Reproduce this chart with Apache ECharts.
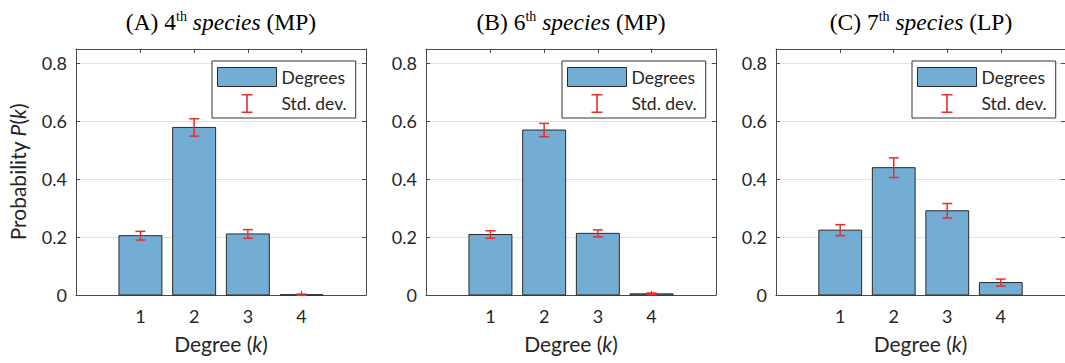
<!DOCTYPE html>
<html>
<head>
<meta charset="utf-8">
<script src="https://cdn.jsdelivr.net/npm/echarts@6/dist/echarts.min.js"></script>
<style>
html,body{margin:0;padding:0;background:#fff;}
#chart{width:1065px;height:363px;}
</style>
</head>
<body>
<div id="chart"></div>
<script>
// ---- data ----
const degrees = [1, 2, 3, 4];
const xTickLabels = [1, 2, 3, 4];
const yTickLabels = [0, 0.2, 0.4, 0.6, 0.8];
const panelTitles = [
  ['(A) 4', 'th', 'species', '(MP)'],
  ['(B) 6', 'th', 'species', '(MP)'],
  ['(C) 7', 'th', 'species', '(LP)']
];
const probA = [0.205, 0.579, 0.211, 0.001];
const stdA  = [0.015, 0.030, 0.015, 0.002];
const probB = [0.209, 0.570, 0.213, 0.004];
const stdB  = [0.013, 0.023, 0.012, 0.003];
const probC = [0.224, 0.440, 0.291, 0.043];
const stdC  = [0.019, 0.034, 0.025, 0.012];
const legendNames = ['Degrees', 'Std. dev.'];

// ---- style ----
const SANS = 'Lato';
const SERIF = 'Liberation Serif';
const BAR_COLOR = '#74add3';
const BAR_BORDER = '#2a2a2a';
const ERR_COLOR = '#e2302f';
const AXIS_COLOR = '#4a4a4a';
const TEXT_COLOR = '#262626';
const BAR_W = 0.8;

const panels = [
  {prob: probA, std: stdA, left: 76},
  {prob: probB, std: stdB, left: 426},
  {prob: probC, std: stdC, left: 776}
];
const GRID_W = 290, GRID_TOP = 49, GRID_H = 246;

const grid = [], xAxis = [], yAxis = [], series = [], legend = [], graphic = [];

panels.forEach((p, i) => {
  grid.push({left: p.left, top: GRID_TOP, width: GRID_W, height: GRID_H, containLabel: false});
  const xBase = {
    type: 'value', gridIndex: i, min: -0.2, max: 5.2,
    axisLine: {show: true, onZero: false, lineStyle: {color: AXIS_COLOR, width: 1}},
    splitLine: {show: false}
  };
  xAxis.push(Object.assign({}, xBase, {
    position: 'bottom',
    axisTick: {show: true, inside: true, length: 4, customValues: degrees, lineStyle: {color: AXIS_COLOR}},
    axisLabel: {show: true, customValues: xTickLabels, margin: 12, fontFamily: SANS, fontSize: 18, color: TEXT_COLOR},
    name: 'Degree ({i|k})', nameLocation: 'middle', nameGap: 38,
    nameTextStyle: {fontFamily: SANS, fontSize: 21, color: TEXT_COLOR,
      rich: {i: {fontFamily: SANS, fontSize: 21, fontStyle: 'italic', color: TEXT_COLOR}}}
  }));
  xAxis.push(Object.assign({}, xBase, {
    position: 'top',
    axisTick: {show: true, inside: true, length: 4, customValues: degrees, lineStyle: {color: AXIS_COLOR}},
    axisLabel: {show: false}
  }));
  const yBase = {
    type: 'value', gridIndex: i, min: 0, max: 0.85, interval: 0.2,
    axisLine: {show: true, onZero: false, lineStyle: {color: AXIS_COLOR, width: 1}}
  };
  const yLeft = Object.assign({}, yBase, {
    position: 'left',
    axisTick: {show: true, inside: true, length: 4, customValues: yTickLabels, lineStyle: {color: AXIS_COLOR}},
    axisLabel: {show: true, customValues: yTickLabels, margin: 9, fontFamily: SANS, fontSize: 18, color: TEXT_COLOR},
    splitLine: {show: true, lineStyle: {color: '#e3e3e3', width: 1}}
  });
  if (i === 0) {
    Object.assign(yLeft, {
      name: 'Probability {i|P}({i|k})', nameLocation: 'middle', nameGap: 48,
      nameTextStyle: {fontFamily: SANS, fontSize: 21, color: TEXT_COLOR,
        rich: {i: {fontFamily: SANS, fontSize: 21, fontStyle: 'italic', color: TEXT_COLOR}}}
    });
  }
  yAxis.push(yLeft);
  yAxis.push(Object.assign({}, yBase, {
    position: 'right',
    axisTick: {show: true, inside: true, length: 4, customValues: yTickLabels, lineStyle: {color: AXIS_COLOR}},
    axisLabel: {show: false},
    splitLine: {show: false}
  }));

  series.push({
    type: 'custom', name: legendNames[0], xAxisIndex: 2 * i, yAxisIndex: 2 * i,
    itemStyle: {color: BAR_COLOR},
    data: degrees.map((d, j) => [d, p.prob[j]]),
    encode: {x: 0, y: 1},
    renderItem: function (params, api) {
      const x = api.value(0), y = api.value(1);
      const a = api.coord([x - BAR_W / 2, y]);
      const b = api.coord([x + BAR_W / 2, 0]);
      return {type: 'rect', shape: {x: a[0], y: a[1], width: b[0] - a[0], height: b[1] - a[1]},
        style: {fill: BAR_COLOR, stroke: BAR_BORDER, lineWidth: 1}};
    }
  });
  series.push({
    type: 'custom', name: legendNames[1], xAxisIndex: 2 * i, yAxisIndex: 2 * i,
    itemStyle: {color: ERR_COLOR}, z: 3,
    data: degrees.map((d, j) => [d, p.prob[j] - p.std[j], p.prob[j] + p.std[j]]),
    encode: {x: 0, y: [1, 2]},
    renderItem: function (params, api) {
      const x = api.value(0);
      const lo = api.coord([x, api.value(1)]);
      const hi = api.coord([x, api.value(2)]);
      const cw = 5;
      const st = {stroke: ERR_COLOR, lineWidth: 1.5};
      return {type: 'group', children: [
        {type: 'line', shape: {x1: lo[0], y1: lo[1], x2: hi[0], y2: hi[1]}, style: st},
        {type: 'line', shape: {x1: lo[0] - cw, y1: lo[1], x2: lo[0] + cw, y2: lo[1]}, style: st},
        {type: 'line', shape: {x1: hi[0] - cw, y1: hi[1], x2: hi[0] + cw, y2: hi[1]}, style: st}
      ]};
    }
  });

  legend.push({
    left: p.left + 136, top: 61, orient: 'vertical',
    backgroundColor: '#fff', borderColor: '#333', borderWidth: 1, borderRadius: 0,
    padding: [6, 9, 5, 5], itemGap: 7, itemWidth: 59, itemHeight: 19,
    selectedMode: false,
    textStyle: {fontFamily: SANS, fontSize: 17.5, color: TEXT_COLOR},
    data: [
      {name: legendNames[0], icon: 'rect', itemStyle: {color: BAR_COLOR, borderColor: BAR_BORDER, borderWidth: 1}},
      {name: legendNames[1], icon: 'path://M0,0h11v1.6h-11z M4.7,0h1.6v19h-1.6z M0,17.4h11v1.6h-11z',
        itemStyle: {color: ERR_COLOR, borderWidth: 0}}
    ]
  });

  const t = panelTitles[i];
  graphic.push({
    type: 'text', x: p.left + GRID_W / 2, y: 22,
    style: {
      text: t[0] + '{sup|' + t[1] + '} {it|' + t[2] + '} ' + t[3],
      align: 'center', verticalAlign: 'middle',
      fontFamily: SERIF, fontSize: 23.5, fill: '#000', lineHeight: 26,
      rich: {
        sup: {fontFamily: SERIF, fontSize: 14, lineHeight: 12, verticalAlign: 'top', fill: '#000'},
        it: {fontFamily: SERIF, fontSize: 23.5, fontStyle: 'italic', lineHeight: 26, fill: '#000'}
      }
    }
  });
});

const chart = echarts.init(document.getElementById('chart'), null, {renderer: 'svg'});
chart.setOption({
  animation: false,
  backgroundColor: '#fff',
  grid, xAxis, yAxis, series, legend, graphic
});
</script>
</body>
</html>
